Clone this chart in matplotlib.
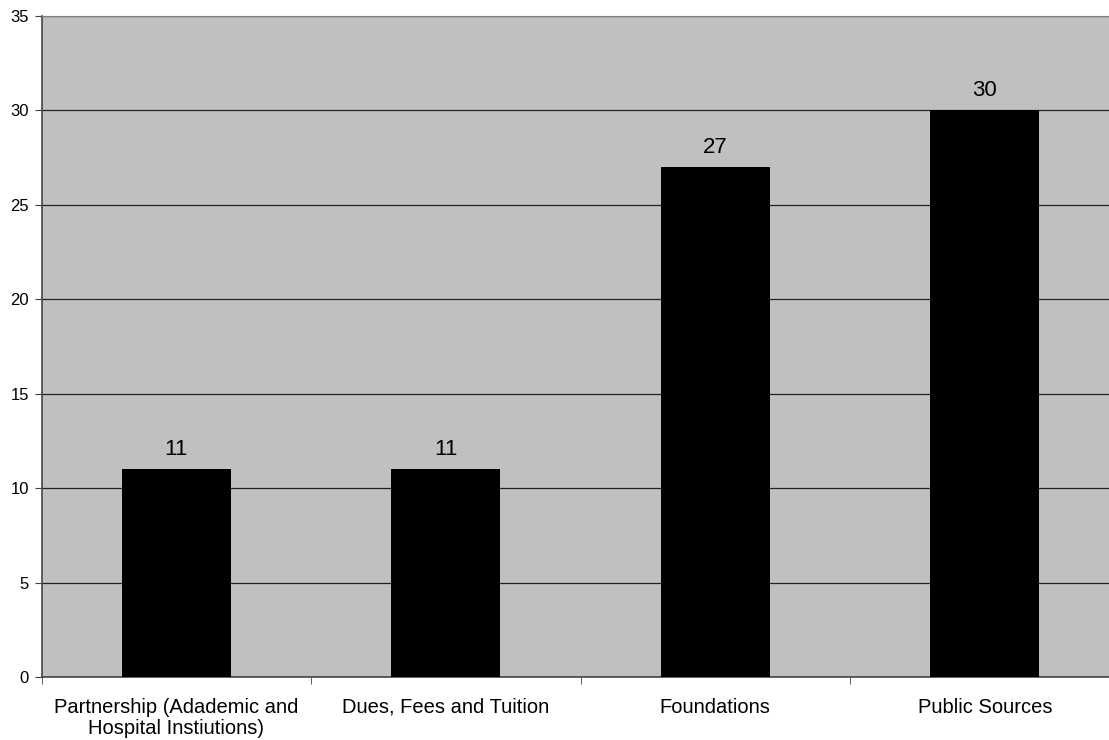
import numpy as np
import matplotlib.pyplot as plt

plt.rcParams['font.family'] = ['Liberation Sans', 'DejaVu Sans']

categories = ['Partnership (Adademic and\nHospital Instiutions)',
              'Dues, Fees and Tuition', 'Foundations', 'Public Sources']
values = [11, 11, 27, 30]
yticks = [0, 5, 10, 15, 20, 25, 30, 35]

fig = plt.figure(figsize=(11.09, 7.4), dpi=100)
ax = fig.add_axes([41.5 / 1109, 63 / 740, 1078 / 1109, 661 / 740])
ax.set_facecolor('#C0C0C0')

x = np.arange(len(categories))
ax.bar(x, values, width=0.405, color='black', zorder=3)
for xi, v in zip(x, values):
    ax.text(xi, v + 0.75, str(v), ha='center', va='baseline', fontsize=16, zorder=4)

ax.set_xlim(-0.5, len(categories) - 0.5)
ax.set_ylim(0, 35)
ax.set_yticks(yticks)
ax.yaxis.grid(True, color='#222222', linewidth=0.9, zorder=1)
ax.set_axisbelow(True)

# category labels centred, tick marks on the boundaries
ax.set_xticks(x)
ax.set_xticklabels(categories, fontsize=14.5, linespacing=1.12)
ax.tick_params(axis='x', length=0, pad=15)
ax.set_xticks(np.arange(len(categories) + 1) - 0.5, minor=True)
ax.tick_params(axis='x', which='minor', length=5, color='#444444')
ax.tick_params(axis='y', length=5, color='#444444', labelsize=12, pad=4)

for side in ['left', 'bottom']:
    ax.spines[side].set_color('#444444')
    ax.spines[side].set_linewidth(1.2)
ax.spines['top'].set_color('#808080')
ax.spines['right'].set_visible(False)

fig.savefig('out.png', dpi=100)
